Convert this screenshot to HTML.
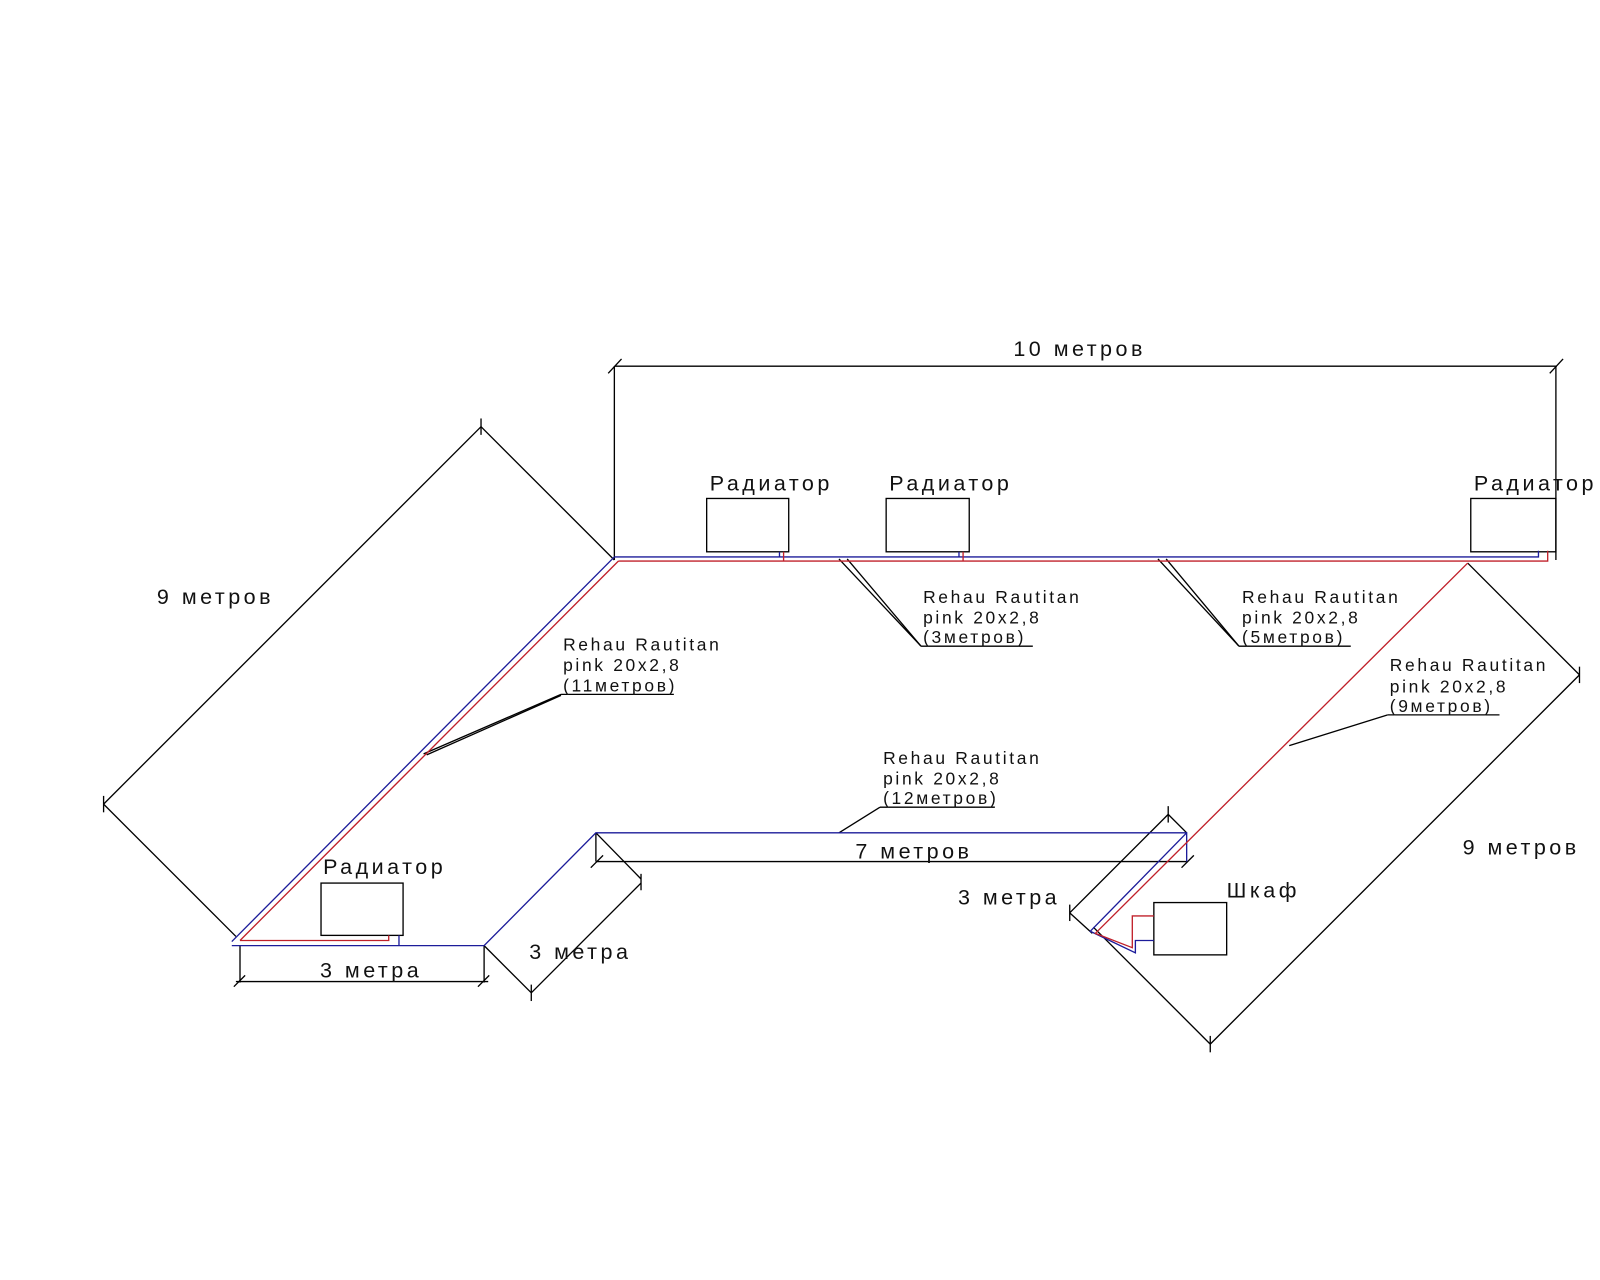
<!DOCTYPE html>
<html><head><meta charset="utf-8"><style>
html,body{margin:0;padding:0;background:#fff;}
svg{display:block;}
text{font-family:"Liberation Sans","DejaVu Sans",sans-serif;fill:#111;}
.L{font-size:21px;letter-spacing:3.4px;}
.S{font-size:17px;letter-spacing:2.6px;}
</style></head><body>
<svg width="1600" height="1280" viewBox="0 0 1560 1248" xmlns="http://www.w3.org/2000/svg">
<g fill="none" stroke="#000" stroke-width="1.3">
<line x1="599" y1="357" x2="1518" y2="357"/>
<line x1="599" y1="357" x2="599" y2="546"/>
<line x1="1517" y1="357" x2="1517" y2="546"/>
<line x1="593" y1="364" x2="606" y2="350"/>
<line x1="1511" y1="364" x2="1524" y2="350"/>
<rect x="689" y="486" width="80" height="52"/>
<rect x="864" y="486" width="81" height="52"/>
<rect x="1434" y="486" width="83" height="52"/>
<rect x="313" y="861" width="80" height="51"/>
<rect x="1125" y="880" width="71" height="51"/>
<line x1="599" y1="546" x2="469" y2="416"/>
<line x1="469" y1="416" x2="101" y2="784"/>
<line x1="101" y1="784" x2="230" y2="913"/>
<line x1="469" y1="408" x2="469" y2="424"/>
<line x1="101" y1="776" x2="101" y2="792"/>
<line x1="234" y1="922" x2="234" y2="958"/>
<line x1="472" y1="922" x2="472" y2="958"/>
<line x1="230" y1="957" x2="476" y2="957"/>
<line x1="228" y1="962" x2="239" y2="951"/>
<line x1="466" y1="962" x2="477" y2="951"/>
<line x1="472" y1="922" x2="518" y2="968"/>
<line x1="518" y1="968" x2="625" y2="861"/>
<line x1="581" y1="812" x2="625" y2="857"/>
<line x1="518" y1="960" x2="518" y2="976"/>
<line x1="625" y1="852" x2="625" y2="868"/>
<line x1="581" y1="840" x2="1157" y2="840"/>
<line x1="581" y1="812" x2="581" y2="840"/>
<line x1="576" y1="846" x2="588" y2="834"/>
<line x1="1152" y1="846" x2="1164" y2="834"/>
<line x1="1157" y1="812" x2="1139" y2="794"/>
<line x1="1139" y1="794" x2="1043" y2="890"/>
<line x1="1043" y1="890" x2="1065" y2="910"/>
<line x1="1139" y1="786" x2="1139" y2="802"/>
<line x1="1043" y1="882" x2="1043" y2="898"/>
<line x1="1431" y1="549" x2="1540" y2="658"/>
<line x1="1540" y1="658" x2="1180" y2="1018"/>
<line x1="1180" y1="1018" x2="1066" y2="904"/>
<line x1="1540" y1="650" x2="1540" y2="666"/>
<line x1="1180" y1="1010" x2="1180" y2="1026"/>
<line x1="413" y1="735" x2="547" y2="677"/>
<line x1="416" y1="736" x2="547" y2="678"/>
<line x1="547" y1="677" x2="657" y2="677"/>
<line x1="818" y1="545" x2="898" y2="630"/>
<line x1="826" y1="545" x2="898" y2="630"/>
<line x1="898" y1="630" x2="1007" y2="630"/>
<line x1="1129" y1="545" x2="1208" y2="630"/>
<line x1="1137" y1="545" x2="1208" y2="630"/>
<line x1="1208" y1="630" x2="1317" y2="630"/>
<line x1="1257" y1="727" x2="1353" y2="697"/>
<line x1="1353" y1="697" x2="1462" y2="697"/>
<line x1="818" y1="812" x2="858" y2="787"/>
<line x1="858" y1="787" x2="970" y2="787"/>
</g>
<g fill="none" stroke="#1c1c9a" stroke-width="1.3">
<polyline points="599,543 1500,543 1500,537"/>
<line x1="760" y1="543" x2="760" y2="538"/>
<line x1="935" y1="543" x2="935" y2="538"/>
<line x1="599" y1="543" x2="226" y2="918"/>
<polyline points="226,922 472,922 581,812 1157,812 1157,840"/>
<line x1="389" y1="922" x2="389" y2="912"/>
<polyline points="1157,812 1063,908 1107,929 1107,917 1125,917"/>
</g>
<g fill="none" stroke="#c0202a" stroke-width="1.3">
<polyline points="603,547 1509,547 1509,537"/>
<line x1="764" y1="547" x2="764" y2="538"/>
<line x1="939" y1="547" x2="939" y2="538"/>
<line x1="603" y1="547" x2="234" y2="917"/>
<polyline points="234,917 379,917 379,912"/>
<polyline points="1431,549 1068,910 1104,924 1104,893 1125,893"/>
</g>
<text class="L" x="988" y="347">10 метров</text>
<text class="L" x="692" y="478">Радиатор</text>
<text class="L" x="867" y="478">Радиатор</text>
<text class="L" x="1437" y="478">Радиатор</text>
<text class="L" x="315" y="852">Радиатор</text>
<text class="L" x="153" y="589">9 метров</text>
<text class="L" x="1426" y="833">9 метров</text>
<text class="L" x="312" y="953">3 метра</text>
<text class="L" x="516" y="935">3 метра</text>
<text class="L" x="934" y="882">3 метра</text>
<text class="L" x="834" y="837">7 метров</text>
<text class="L" x="1196" y="875">Шкаф</text>
<text class="S" x="549" y="634">Rehau Rautitan</text>
<text class="S" x="549" y="654">pink 20x2,8</text>
<text class="S" x="549" y="674">(11метров)</text>
<text class="S" x="900" y="588">Rehau Rautitan</text>
<text class="S" x="900" y="608">pink 20x2,8</text>
<text class="S" x="900" y="627">(3метров)</text>
<text class="S" x="1211" y="588">Rehau Rautitan</text>
<text class="S" x="1211" y="608">pink 20x2,8</text>
<text class="S" x="1211" y="627">(5метров)</text>
<text class="S" x="1355" y="654">Rehau Rautitan</text>
<text class="S" x="1355" y="675">pink 20x2,8</text>
<text class="S" x="1355" y="694">(9метров)</text>
<text class="S" x="861" y="745">Rehau Rautitan</text>
<text class="S" x="861" y="765">pink 20x2,8</text>
<text class="S" x="861" y="784">(12метров)</text>
</svg>
</body></html>
